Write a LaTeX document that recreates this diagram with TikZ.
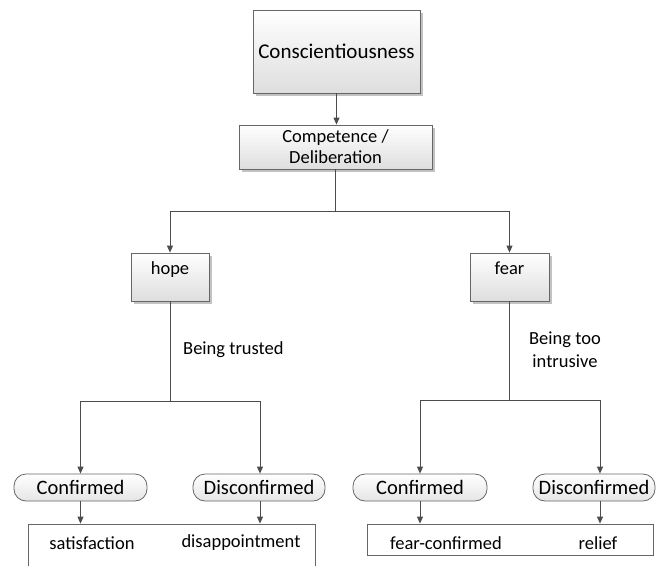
\documentclass[tikz,border=0pt]{standalone}
\usepackage{fontspec}
\setmainfont{Carlito}
\usetikzlibrary{arrows.meta,shadows}

\begin{document}
\begin{tikzpicture}[x=1pt,y=-1pt,
			>={Triangle[length=7pt,width=6pt]},
			box/.style={rectangle, draw=black!60, line width=0.8pt, top color=white, bottom color=black!13, drop shadow={shadow xshift=2.5pt,shadow yshift=-2.5pt,fill=black!40,opacity=0.6}, inner sep=0pt, align=center, font=\fontsize{18.5}{21}\selectfont},
			pill/.style={rectangle, rounded corners=12pt, draw=black!60, line width=0.8pt, top color=white, bottom color=black!10, minimum height=27pt, inner sep=0pt, font=\fontsize{20.5}{24}\selectfont},
			resbox/.style={rectangle, draw=black!60, line width=0.8pt, fill=white, inner sep=0pt},
			txt/.style={inner sep=0pt, align=center, font=\fontsize{18.5}{23}\selectfont},
			link/.style={draw=black!70, line width=1pt}
				]
			\useasboundingbox (0,0) rectangle (660,565);
			\clip (0,0) rectangle (660,565);

			\node[box, minimum width=167pt, minimum height=83pt, font=\fontsize{21}{25}\selectfont] at (336.5,51.5) (consc) {Conscientiousness};
			\node[box, minimum width=193pt, minimum height=44pt] at (335.5,147) (comp) {Competence /\\Deliberation};
			\node[box, minimum width=78pt, minimum height=48pt, text height=14.5pt, text depth=20.5pt] at (170,277) (hope) {hope};
			\node[box, minimum width=79pt, minimum height=48pt, text height=14.5pt, text depth=20.5pt] at (509.5,277) (fear) {fear};

			\node[pill, minimum width=133pt] at (80.5,487.5) (conf1) {Confirmed};
			\node[pill, minimum width=132pt] at (259,487.5) (disc1) {Disconfirmed};
			\node[pill, minimum width=134pt] at (420,487.5) (conf2) {Confirmed};
			\node[pill, minimum width=122pt] at (594,487.5) (disc2) {Disconfirmed};

			\node[resbox, minimum width=287pt, minimum height=56pt] at (171.5,552) (res1) {};
			\node[resbox, minimum width=286pt, minimum height=31pt] at (510,539.5) (res2) {};
			\node[txt] at (92,543) (sat) {satisfaction};
			\node[txt] at (241,543) (disap) {disappointment};
			\node[txt] at (446,543) (fconf) {fear-confirmed};
			\node[txt] at (598,543) (relief) {relief};

			%top
			\coordinate (sp0) at ([yshift=-42pt]comp.south);
			\draw[link,->] (consc.south) -- (consc.south |- comp.north);
			\draw[link] (comp.south) -- (sp0);
			\draw[link,->] (sp0) -| (hope.north);
			\draw[link,->] (sp0) -| (fear.north);

			%hope
			\coordinate (sp1) at ([yshift=-100pt]hope.south);
			\draw[link] (hope.south) -- (sp1);
			\draw[link,->] (sp1) -| (conf1.north);
			\draw[link,->] (sp1) -| ([xshift=1pt]disc1.north);
			\node[txt, anchor=west] at (183,350) (trust) {Being trusted};
			\draw[link,->] (conf1.south) -- (conf1.south |- res1.north);
			\draw[link,->] ([xshift=1pt]disc1.south) -- ([xshift=1pt]disc1.south |- res1.north);

			%fear
			\coordinate (sp2) at ([yshift=-99pt]fear.south);
			\draw[link] (fear.south) -- (sp2);
			\draw[link,->] (sp2) -| (conf2.north);
			\draw[link,->] (sp2) -| ([xshift=6pt]disc2.north);
			\node[txt] at (565,349.5) (intr) {Being too\\intrusive};
			\draw[link,->] (conf2.south) -- (conf2.south |- res2.north);
			\draw[link,->] ([xshift=6pt]disc2.south) -- ([xshift=6pt]disc2.south |- res2.north);
	\end{tikzpicture}
\end{document}
